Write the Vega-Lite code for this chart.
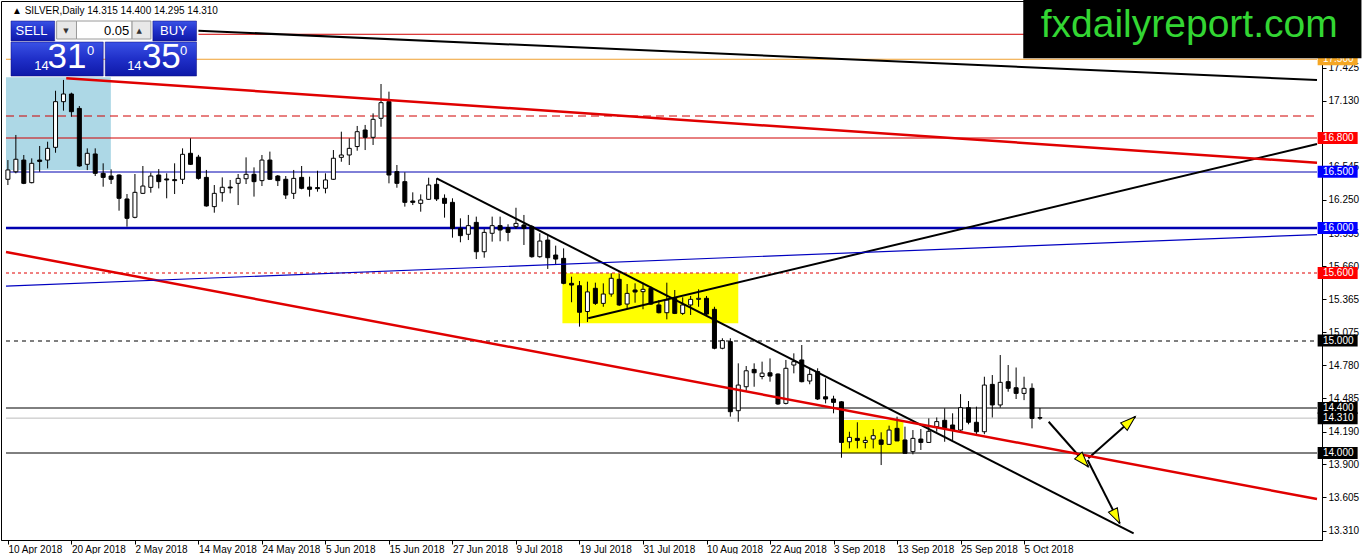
{
  "$schema": "https://vega.github.io/schema/vega-lite/v6.json",
  "description": "SILVER daily candles, Apr-Oct 2018, with levels and trendlines",
  "width": 1321,
  "height": 539,
  "padding": {"left": 1, "top": 1, "right": 40, "bottom": 14},
  "autosize": {"type": "none"},
  "background": "white",
  "config": {
    "view": {"stroke": "black", "strokeWidth": 1},
    "font": "Liberation Sans",
    "axis": {"grid": false, "domainColor": "black", "tickColor": "black", "labelColor": "black", "labelFontSize": 10, "labelFont": "Liberation Sans", "titleOpacity": 0}
  },
  "resolve": {"scale": {"color": "independent", "fill": "independent"}},
  "datasets": {
    "candles": [
      {"i":0,"o":16.433,"h":16.604,"l":16.382,"c":16.516},
      {"i":1,"o":16.500,"h":16.827,"l":16.486,"c":16.611},
      {"i":2,"o":16.604,"h":16.649,"l":16.390,"c":16.397},
      {"i":3,"o":16.403,"h":16.619,"l":16.397,"c":16.575},
      {"i":4,"o":16.604,"h":16.729,"l":16.500,"c":16.592},
      {"i":5,"o":16.604,"h":16.767,"l":16.530,"c":16.708},
      {"i":6,"o":16.717,"h":17.220,"l":16.669,"c":17.123},
      {"i":7,"o":17.123,"h":17.316,"l":17.043,"c":17.191},
      {"i":8,"o":17.191,"h":17.203,"l":16.989,"c":17.034},
      {"i":9,"o":17.063,"h":17.084,"l":16.545,"c":16.551},
      {"i":10,"o":16.566,"h":16.708,"l":16.515,"c":16.664},
      {"i":11,"o":16.658,"h":16.708,"l":16.462,"c":16.486},
      {"i":12,"o":16.486,"h":16.575,"l":16.367,"c":16.450},
      {"i":13,"o":16.462,"h":16.521,"l":16.391,"c":16.433},
      {"i":14,"o":16.471,"h":16.477,"l":16.154,"c":16.264},
      {"i":15,"o":16.258,"h":16.302,"l":16.012,"c":16.086},
      {"i":16,"o":16.095,"h":16.480,"l":16.086,"c":16.317},
      {"i":17,"o":16.308,"h":16.551,"l":16.302,"c":16.373},
      {"i":18,"o":16.361,"h":16.492,"l":16.314,"c":16.462},
      {"i":19,"o":16.471,"h":16.524,"l":16.352,"c":16.412},
      {"i":20,"o":16.436,"h":16.486,"l":16.264,"c":16.427},
      {"i":21,"o":16.430,"h":16.575,"l":16.302,"c":16.421},
      {"i":22,"o":16.433,"h":16.708,"l":16.391,"c":16.655},
      {"i":23,"o":16.664,"h":16.797,"l":16.560,"c":16.566},
      {"i":24,"o":16.630,"h":16.650,"l":16.430,"c":16.441},
      {"i":25,"o":16.450,"h":16.516,"l":16.190,"c":16.196},
      {"i":26,"o":16.190,"h":16.382,"l":16.136,"c":16.308},
      {"i":27,"o":16.314,"h":16.450,"l":16.234,"c":16.362},
      {"i":28,"o":16.364,"h":16.427,"l":16.308,"c":16.356},
      {"i":29,"o":16.397,"h":16.480,"l":16.204,"c":16.441},
      {"i":30,"o":16.438,"h":16.628,"l":16.391,"c":16.477},
      {"i":31,"o":16.477,"h":16.539,"l":16.279,"c":16.412},
      {"i":32,"o":16.421,"h":16.649,"l":16.373,"c":16.604},
      {"i":33,"o":16.604,"h":16.679,"l":16.427,"c":16.433},
      {"i":34,"o":16.462,"h":16.471,"l":16.373,"c":16.421},
      {"i":35,"o":16.433,"h":16.462,"l":16.258,"c":16.293},
      {"i":36,"o":16.308,"h":16.516,"l":16.258,"c":16.441},
      {"i":37,"o":16.450,"h":16.551,"l":16.344,"c":16.353},
      {"i":38,"o":16.364,"h":16.456,"l":16.279,"c":16.344},
      {"i":39,"o":16.359,"h":16.509,"l":16.323,"c":16.350},
      {"i":40,"o":16.353,"h":16.486,"l":16.308,"c":16.427},
      {"i":41,"o":16.433,"h":16.693,"l":16.427,"c":16.620},
      {"i":42,"o":16.628,"h":16.856,"l":16.589,"c":16.649},
      {"i":43,"o":16.649,"h":16.797,"l":16.560,"c":16.708},
      {"i":44,"o":16.724,"h":16.907,"l":16.687,"c":16.856},
      {"i":45,"o":16.871,"h":16.916,"l":16.693,"c":16.806},
      {"i":46,"o":16.806,"h":17.019,"l":16.738,"c":16.966},
      {"i":47,"o":16.975,"h":17.280,"l":16.900,"c":17.114},
      {"i":48,"o":17.123,"h":17.212,"l":16.397,"c":16.471},
      {"i":49,"o":16.501,"h":16.560,"l":16.358,"c":16.397},
      {"i":50,"o":16.412,"h":16.495,"l":16.190,"c":16.228},
      {"i":51,"o":16.240,"h":16.317,"l":16.204,"c":16.228},
      {"i":52,"o":16.219,"h":16.299,"l":16.145,"c":16.249},
      {"i":53,"o":16.255,"h":16.447,"l":16.249,"c":16.382},
      {"i":54,"o":16.388,"h":16.441,"l":16.240,"c":16.258},
      {"i":55,"o":16.264,"h":16.299,"l":16.092,"c":16.219},
      {"i":56,"o":16.228,"h":16.264,"l":15.914,"c":15.997},
      {"i":57,"o":15.997,"h":16.086,"l":15.873,"c":15.932},
      {"i":58,"o":15.944,"h":16.116,"l":15.893,"c":16.021},
      {"i":59,"o":16.050,"h":16.101,"l":15.724,"c":15.789},
      {"i":60,"o":15.789,"h":15.991,"l":15.736,"c":15.961},
      {"i":61,"o":15.953,"h":16.101,"l":15.879,"c":16.021},
      {"i":62,"o":16.021,"h":16.101,"l":15.882,"c":15.982},
      {"i":63,"o":16.003,"h":16.033,"l":15.882,"c":15.961},
      {"i":64,"o":16.012,"h":16.180,"l":15.991,"c":16.041},
      {"i":65,"o":16.027,"h":16.116,"l":15.849,"c":15.997},
      {"i":66,"o":16.012,"h":16.027,"l":15.736,"c":15.745},
      {"i":67,"o":15.745,"h":15.953,"l":15.736,"c":15.884},
      {"i":68,"o":15.893,"h":15.938,"l":15.636,"c":15.736},
      {"i":69,"o":15.760,"h":15.843,"l":15.677,"c":15.724},
      {"i":70,"o":15.730,"h":15.819,"l":15.500,"c":15.508},
      {"i":71,"o":15.508,"h":15.567,"l":15.340,"c":15.493},
      {"i":72,"o":15.487,"h":15.529,"l":15.123,"c":15.251},
      {"i":73,"o":15.258,"h":15.523,"l":15.164,"c":15.432},
      {"i":74,"o":15.464,"h":15.514,"l":15.316,"c":15.330},
      {"i":75,"o":15.330,"h":15.508,"l":15.300,"c":15.413},
      {"i":76,"o":15.413,"h":15.597,"l":15.389,"c":15.553},
      {"i":77,"o":15.544,"h":15.591,"l":15.307,"c":15.316},
      {"i":78,"o":15.324,"h":15.502,"l":15.286,"c":15.419},
      {"i":79,"o":15.449,"h":15.508,"l":15.336,"c":15.431},
      {"i":80,"o":15.434,"h":15.514,"l":15.278,"c":15.455},
      {"i":81,"o":15.464,"h":15.479,"l":15.316,"c":15.324},
      {"i":82,"o":15.316,"h":15.360,"l":15.241,"c":15.247},
      {"i":83,"o":15.247,"h":15.514,"l":15.188,"c":15.360},
      {"i":84,"o":15.375,"h":15.449,"l":15.235,"c":15.241},
      {"i":85,"o":15.241,"h":15.384,"l":15.227,"c":15.316},
      {"i":86,"o":15.316,"h":15.396,"l":15.227,"c":15.366},
      {"i":87,"o":15.366,"h":15.455,"l":15.300,"c":15.375},
      {"i":88,"o":15.375,"h":15.396,"l":15.227,"c":15.235},
      {"i":89,"o":15.277,"h":15.300,"l":14.922,"c":14.931},
      {"i":90,"o":14.931,"h":15.020,"l":14.922,"c":14.999},
      {"i":91,"o":14.990,"h":15.020,"l":14.323,"c":14.367},
      {"i":92,"o":14.376,"h":14.797,"l":14.278,"c":14.604},
      {"i":93,"o":14.589,"h":14.773,"l":14.554,"c":14.731},
      {"i":94,"o":14.743,"h":14.797,"l":14.589,"c":14.713},
      {"i":95,"o":14.680,"h":14.812,"l":14.655,"c":14.710},
      {"i":96,"o":14.713,"h":14.841,"l":14.634,"c":14.684},
      {"i":97,"o":14.702,"h":14.707,"l":14.427,"c":14.436},
      {"i":98,"o":14.441,"h":14.827,"l":14.432,"c":14.753},
      {"i":99,"o":14.782,"h":14.886,"l":14.708,"c":14.812},
      {"i":100,"o":14.827,"h":14.960,"l":14.628,"c":14.634},
      {"i":101,"o":14.640,"h":14.753,"l":14.611,"c":14.699},
      {"i":102,"o":14.724,"h":14.753,"l":14.471,"c":14.480},
      {"i":103,"o":14.500,"h":14.664,"l":14.441,"c":14.480},
      {"i":104,"o":14.480,"h":14.509,"l":14.353,"c":14.450},
      {"i":105,"o":14.455,"h":14.461,"l":13.958,"c":14.094},
      {"i":106,"o":14.100,"h":14.189,"l":14.041,"c":14.139},
      {"i":107,"o":14.130,"h":14.273,"l":14.041,"c":14.112},
      {"i":108,"o":14.094,"h":14.145,"l":14.041,"c":14.112},
      {"i":109,"o":14.124,"h":14.213,"l":14.041,"c":14.154},
      {"i":110,"o":14.116,"h":14.184,"l":13.893,"c":14.077},
      {"i":111,"o":14.077,"h":14.243,"l":14.071,"c":14.204},
      {"i":112,"o":14.219,"h":14.323,"l":14.107,"c":14.107},
      {"i":113,"o":14.116,"h":14.234,"l":13.997,"c":13.997},
      {"i":114,"o":14.012,"h":14.204,"l":13.988,"c":14.130},
      {"i":115,"o":14.124,"h":14.213,"l":14.027,"c":14.094},
      {"i":116,"o":14.094,"h":14.308,"l":14.094,"c":14.193},
      {"i":117,"o":14.234,"h":14.316,"l":14.189,"c":14.279},
      {"i":118,"o":14.291,"h":14.397,"l":14.100,"c":14.219},
      {"i":119,"o":14.249,"h":14.353,"l":14.116,"c":14.204},
      {"i":120,"o":14.204,"h":14.523,"l":14.195,"c":14.403},
      {"i":121,"o":14.403,"h":14.462,"l":14.255,"c":14.273},
      {"i":122,"o":14.273,"h":14.412,"l":14.167,"c":14.189},
      {"i":123,"o":14.189,"h":14.678,"l":14.167,"c":14.604},
      {"i":124,"o":14.610,"h":14.693,"l":14.316,"c":14.427},
      {"i":125,"o":14.427,"h":14.871,"l":14.403,"c":14.628},
      {"i":126,"o":14.634,"h":14.782,"l":14.545,"c":14.575},
      {"i":127,"o":14.580,"h":14.760,"l":14.480,"c":14.530},
      {"i":128,"o":14.530,"h":14.678,"l":14.470,"c":14.575},
      {"i":129,"o":14.575,"h":14.619,"l":14.219,"c":14.307},
      {"i":130,"o":14.315,"h":14.400,"l":14.295,"c":14.310}
    ],
    "boxes": [
      {"k":"zone","x1":-0.24,"x2":12.97,"p1":16.516,"p2":17.340},
      {"k":"box","x1":69.85,"x2":92.0,"p1":15.153,"p2":15.597},
      {"k":"box","x1":105.05,"x2":112.8,"p1":13.997,"p2":14.293}
    ],
    "levels": [
      {"p":17.722,"k":"red","x0":24},
      {"p":17.5,"k":"orange","x0":-0.24},
      {"p":17.0,"k":"reddash","x0":-0.24},
      {"p":16.8,"k":"red","x0":-0.24},
      {"p":16.5,"k":"blue","x0":-0.24},
      {"p":16.0,"k":"bluethick","x0":-0.24},
      {"p":15.6,"k":"reddot","x0":-0.24},
      {"p":15.0,"k":"blackdash","x0":-0.24},
      {"p":14.4,"k":"black","x0":-0.24},
      {"p":14.31,"k":"gray","x0":-0.24},
      {"p":14.0,"k":"black","x0":-0.24}
    ],
    "trends": [
      {"k":"black","x1":24.0,"p1":17.754,"x2":164.9,"p2":17.316},
      {"k":"red","x1":7.35,"p1":17.331,"x2":164.9,"p2":16.580},
      {"k":"blue","x1":-0.24,"p1":15.484,"x2":164.9,"p2":15.942},
      {"k":"red","x1":-0.24,"p1":15.787,"x2":164.9,"p2":13.591},
      {"k":"black","x1":54.0,"p1":16.442,"x2":141.8,"p2":13.286},
      {"k":"black","x1":73.1,"p1":15.197,"x2":164.9,"p2":16.747},
      {"k":"arrow","x1":131.1,"p1":14.278,"x2":136.1,"p2":13.878},
      {"k":"arrow","x1":136.1,"p1":13.953,"x2":142.0,"p2":14.323},
      {"k":"arrow","x1":136.0,"p1":13.938,"x2":140.05,"p2":13.375}
    ],
    "tags": [
      {"p":17.5,"t":"17.500","k":"o"},
      {"p":16.8,"t":"16.800","k":"r"},
      {"p":16.5,"t":"16.500","k":"b"},
      {"p":16.0,"t":"16.000","k":"b"},
      {"p":15.6,"t":"15.600","k":"r"},
      {"p":15.0,"t":"15.000","k":"k"},
      {"p":14.4,"t":"14.400","k":"k"},
      {"p":14.31,"t":"14.310","k":"k"},
      {"p":14.0,"t":"14.000","k":"k"}
    ],
    "ui": [
      {"k":"btn","x1":0.39,"x2":5.89,"p1":17.662,"p2":17.840},
      {"k":"btn","x1":18.26,"x2":23.76,"p1":17.662,"p2":17.840},
      {"k":"btn","x1":0.39,"x2":12.01,"p1":17.351,"p2":17.653},
      {"k":"btn","x1":12.26,"x2":23.76,"p1":17.351,"p2":17.653},
      {"k":"ctrl","x1":6.14,"x2":8.64,"p1":17.680,"p2":17.840},
      {"k":"input","x1":8.64,"x2":15.64,"p1":17.680,"p2":17.840},
      {"k":"ctrl","x1":15.64,"x2":18.01,"p1":17.680,"p2":17.840}
    ],
    "uitext": [
      {"t":"SELL","i":2.97,"p":17.751,"k":"lbl"},
      {"t":"BUY","i":20.85,"p":17.751,"k":"lbl"},
      {"t":"0.05","i":13.7,"p":17.751,"k":"blk"},
      {"t":"▼","i":7.3,"p":17.754,"k":"arr"},
      {"t":"▲","i":16.55,"p":17.754,"k":"arr"},
      {"t":"14","i":4.22,"p":17.443,"k":"sm"},
      {"t":"31","i":7.45,"p":17.517,"k":"big"},
      {"t":"0","i":10.43,"p":17.575,"k":"sm"},
      {"t":"14","i":15.93,"p":17.443,"k":"sm"},
      {"t":"35","i":19.33,"p":17.517,"k":"big"},
      {"t":"0","i":22.14,"p":17.575,"k":"sm"}
    ]
  },
  "layer": [
    {
      "data": {"name": "boxes"},
      "mark": {"type": "rect"},
      "encoding": {
        "x": {"field": "x1", "type": "quantitative", "title": null,
          "scale": {"domain": [-0.24, 164.9], "nice": false, "zero": false},
          "axis": {"values": [0,8,16,24,32,40,48,56,64,72,80,88,96,104,112,120,128],
            "labelExpr": "['10 Apr 2018','20 Apr 2018','2 May 2018','14 May 2018','24 May 2018','5 Jun 2018','15 Jun 2018','27 Jun 2018','9 Jul 2018','19 Jul 2018','31 Jul 2018','10 Aug 2018','22 Aug 2018','3 Sep 2018','13 Sep 2018','25 Sep 2018','5 Oct 2018'][round(datum.value/8)]",
            "labelAlign": "left", "labelBaseline": "top", "tickSize": 4, "labelPadding": 0,
            "labelOverlap": false, "labelFlush": false, "labelBound": false, "title": null}},
        "x2": {"field": "x2"},
        "y": {"field": "p1", "type": "quantitative", "title": null,
          "scale": {"domain": [13.2267, 18.0178], "nice": false, "zero": false},
          "axis": {"orient": "right", "values": [17.425,17.13,16.545,16.25,15.955,15.66,15.365,15.075,14.78,14.485,14.19,13.9,13.605,13.31],
            "format": ".3f", "tickSize": 4, "labelPadding": 2, "labelOverlap": false, "labelFlush": false, "labelBound": false, "title": null}},
        "y2": {"field": "p2"},
        "color": {"field": "k", "type": "nominal", "legend": null,
          "scale": {"domain": ["zone", "box"], "range": ["#add8e6", "#ffff00"]}}
      }
    },
    {
      "data": {"name": "levels"},
      "layer": [
        {"transform": [{"filter": "datum.k == 'red'"}], "mark": {"type": "rule", "color": "#d00000", "strokeWidth": 1}},
        {"transform": [{"filter": "datum.k == 'orange'"}], "mark": {"type": "rule", "color": "#f0a030", "strokeWidth": 1}},
        {"transform": [{"filter": "datum.k == 'reddash'"}], "mark": {"type": "rule", "stroke": "#d00000", "color": "#d00000", "strokeWidth": 1, "strokeDash": [8, 5], "yOffset": 0.5}},
        {"transform": [{"filter": "datum.k == 'blue'"}], "mark": {"type": "rule", "color": "#0000b0", "strokeWidth": 1, "yOffset": 0.25}},
        {"transform": [{"filter": "datum.k == 'bluethick'"}], "mark": {"type": "rule", "color": "#0000b0", "strokeWidth": 2.5}},
        {"transform": [{"filter": "datum.k == 'reddot'"}], "mark": {"type": "rule", "color": "#e00000", "strokeWidth": 1, "strokeDash": [3, 3]}},
        {"transform": [{"filter": "datum.k == 'blackdash'"}], "mark": {"type": "rule", "color": "#000000", "strokeWidth": 1, "strokeDash": [4, 4], "yOffset": 0.5}},
        {"transform": [{"filter": "datum.k == 'black'"}], "mark": {"type": "rule", "color": "#000000", "strokeWidth": 1}},
        {"transform": [{"filter": "datum.k == 'gray'"}], "mark": {"type": "rule", "color": "#bdbdbd", "strokeWidth": 1}}
      ],
      "encoding": {
        "x": {"field": "x0", "type": "quantitative"},
        "x2": {"datum": 164.9},
        "y": {"field": "p", "type": "quantitative"}
      }
    },
    {
      "data": {"name": "candles"},
      "mark": {"type": "rule", "color": "black", "strokeWidth": 1},
      "encoding": {
        "x": {"field": "i", "type": "quantitative"},
        "y": {"field": "l", "type": "quantitative"},
        "y2": {"field": "h"}
      }
    },
    {
      "data": {"name": "candles"},
      "mark": {"type": "bar", "width": 4, "stroke": "black", "strokeWidth": 1},
      "encoding": {
        "x": {"field": "i", "type": "quantitative"},
        "y": {"field": "o", "type": "quantitative"},
        "y2": {"field": "c"},
        "fill": {"condition": {"test": "datum.c < datum.o", "value": "black"}, "value": "white"}
      }
    },
    {
      "data": {"name": "trends"},
      "layer": [
        {"transform": [{"filter": "datum.k == 'black' || datum.k == 'arrow'"}], "mark": {"type": "rule", "color": "#000000", "strokeWidth": 2}},
        {"transform": [{"filter": "datum.k == 'red'"}], "mark": {"type": "rule", "color": "#e00000", "strokeWidth": 2.5}},
        {"transform": [{"filter": "datum.k == 'blue'"}], "mark": {"type": "rule", "color": "#0000c0", "strokeWidth": 1.2}}
      ],
      "encoding": {
        "x": {"field": "x1", "type": "quantitative"},
        "x2": {"field": "x2"},
        "y": {"field": "p1", "type": "quantitative"},
        "y2": {"field": "p2"}
      }
    },
    {
      "data": {"name": "trends"},
      "transform": [
        {"filter": "datum.k == 'arrow'"},
        {"calculate": "atan2((datum.x2 - datum.x1) * 8, (datum.p2 - datum.p1) * 112.5) * 180 / PI", "as": "ang"}
      ],
      "mark": {"type": "point", "shape": "M0,0L1,3L-1,3Z", "size": 100, "filled": true, "fill": "#ffff00", "stroke": "black", "strokeWidth": 1, "opacity": 1},
      "encoding": {
        "x": {"field": "x2", "type": "quantitative"},
        "y": {"field": "p2", "type": "quantitative"},
        "angle": {"field": "ang", "type": "quantitative", "scale": null}
      }
    },
    {
      "data": {"name": "tags"},
      "mark": {"type": "point", "shape": "M-1,-0.3L1,-0.3L1,0.3L-1,0.3Z", "size": 1600, "filled": true, "opacity": 1, "strokeWidth": 0},
      "encoding": {
        "x": {"datum": 167.5},
        "y": {"field": "p", "type": "quantitative"},
        "color": {"field": "k", "type": "nominal", "legend": null,
          "scale": {"domain": ["o", "r", "b", "k"], "range": ["#f5a623", "#ff0000", "#0000ff", "#000000"]}}
      }
    },
    {
      "data": {"name": "tags"},
      "mark": {"type": "text", "align": "left", "baseline": "middle", "fontSize": 10, "color": "white", "font": "Liberation Sans"},
      "encoding": {
        "x": {"datum": 165.65},
        "y": {"field": "p", "type": "quantitative"},
        "text": {"field": "t"}
      }
    },
    {
      "data": {"name": "ui"},
      "transform": [{"filter": "datum.k == 'btn'"}],
      "mark": {"type": "rect", "stroke": "#0a0a80", "strokeWidth": 0.5,
        "fill": {"gradient": "linear", "x1": 0, "y1": 0, "x2": 0, "y2": 1,
          "stops": [{"offset": 0, "color": "#3a52e6"}, {"offset": 0.5, "color": "#1f2fc8"}, {"offset": 1, "color": "#0e18a8"}]}},
      "encoding": {
        "x": {"field": "x1", "type": "quantitative"},
        "x2": {"field": "x2"},
        "y": {"field": "p1", "type": "quantitative"},
        "y2": {"field": "p2"}
      }
    },
    {
      "data": {"name": "ui"},
      "transform": [{"filter": "datum.k != 'btn'"}],
      "mark": {"type": "rect", "stroke": "#9a9a9a", "strokeWidth": 1},
      "encoding": {
        "x": {"field": "x1", "type": "quantitative"},
        "x2": {"field": "x2"},
        "y": {"field": "p1", "type": "quantitative"},
        "y2": {"field": "p2"},
        "fill": {"field": "k", "type": "nominal", "legend": null,
          "scale": {"domain": ["ctrl", "input"], "range": ["#e8e8e8", "#ffffff"]}}
      }
    },
    {
      "data": {"name": "uitext"},
      "layer": [
        {"transform": [{"filter": "datum.k == 'lbl' || datum.k == 'sm'"}], "mark": {"type": "text", "align": "center", "baseline": "middle", "fontSize": 13, "color": "white", "font": "Liberation Sans"}},
        {"transform": [{"filter": "datum.k == 'blk'"}], "mark": {"type": "text", "align": "center", "baseline": "middle", "fontSize": 13, "color": "black", "font": "Liberation Sans"}},
        {"transform": [{"filter": "datum.k == 'arr'"}], "mark": {"type": "text", "align": "center", "baseline": "middle", "fontSize": 7, "color": "#333333", "font": "DejaVu Sans"}},
        {"transform": [{"filter": "datum.k == 'big'"}], "mark": {"type": "text", "align": "center", "baseline": "middle", "fontSize": 35, "color": "white", "font": "Liberation Sans"}}
      ],
      "encoding": {
        "x": {"field": "i", "type": "quantitative"},
        "y": {"field": "p", "type": "quantitative"},
        "text": {"field": "t"}
      }
    },
    {
      "data": {"values": [{"t": "▲ SILVER,Daily  14.315 14.400 14.295 14.310", "i": 0.51, "p": 17.932}]},
      "mark": {"type": "text", "align": "left", "baseline": "middle", "fontSize": 10, "color": "black", "font": "Liberation Sans"},
      "encoding": {
        "x": {"field": "i", "type": "quantitative"},
        "y": {"field": "p", "type": "quantitative"},
        "text": {"field": "t"}
      }
    },
    {
      "data": {"values": [{"x1": 127.9, "x2": 170.5, "p1": 17.508, "p2": 18.03}]},
      "mark": {"type": "rect", "color": "black"},
      "encoding": {
        "x": {"field": "x1", "type": "quantitative"},
        "x2": {"field": "x2"},
        "y": {"field": "p1", "type": "quantitative"},
        "y2": {"field": "p2"}
      }
    },
    {
      "data": {"values": [{"t": "fxdailyreport.com", "i": 148.8, "p": 17.70}]},
      "mark": {"type": "text", "align": "center", "baseline": "alphabetic", "fontSize": 39, "color": "#33d633", "font": "Liberation Sans"},
      "encoding": {
        "x": {"field": "i", "type": "quantitative"},
        "y": {"field": "p", "type": "quantitative"},
        "text": {"field": "t"}
      }
    }
  ]
}
